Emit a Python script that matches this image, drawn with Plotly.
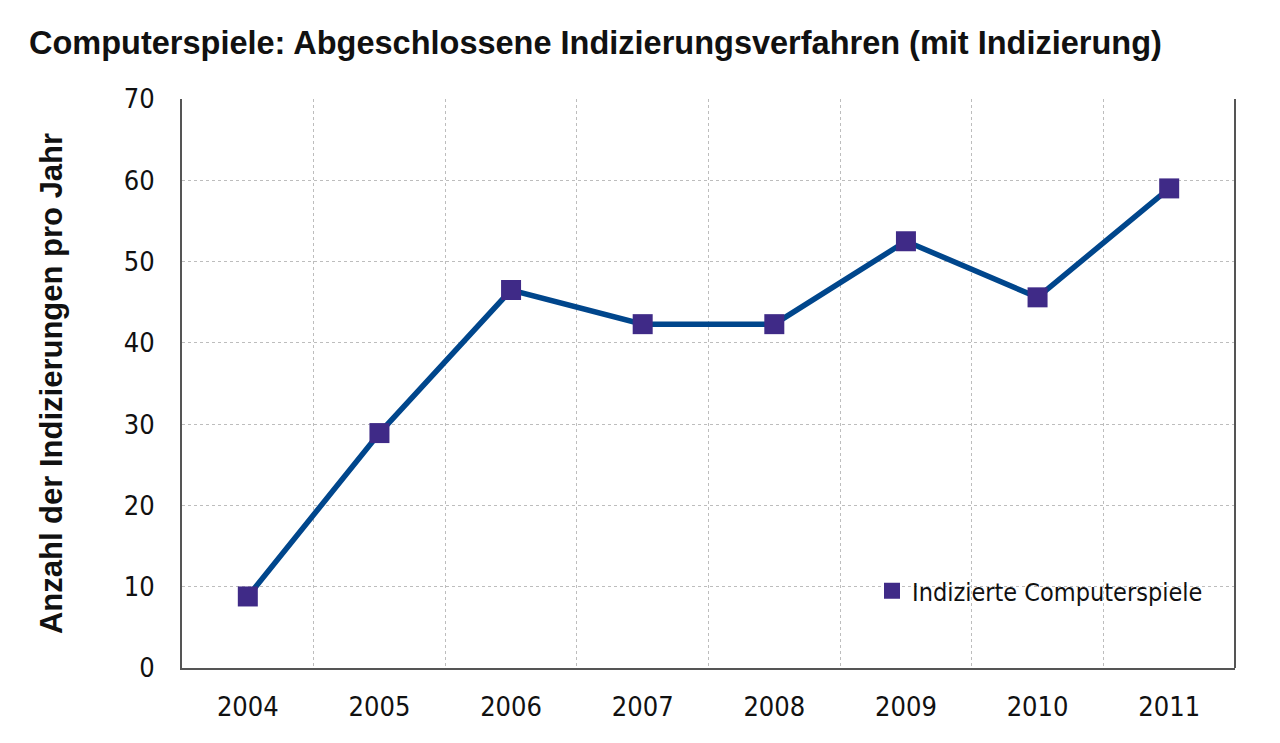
import plotly.graph_objects as go

years = ["2004", "2005", "2006", "2007", "2008", "2009", "2010", "2011"]
values = [8.8, 28.9, 46.5, 42.3, 42.3, 52.5, 45.6, 59.0]
y_ticks = [0, 10, 20, 30, 40, 50, 60, 70]
series_name = "Indizierte Computerspiele"

NARROW = "Liberation Sans Narrow, DejaVu Sans Condensed, Arial Narrow, sans-serif"
BOLD = "Liberation Sans, Arial, sans-serif"

x_idx = list(range(len(years)))

fig = go.Figure()
fig.add_trace(go.Scatter(
    x=x_idx, y=values, mode="lines+markers",
    line=dict(color="#00468c", width=5.5),
    marker=dict(symbol="square", size=20, color="#3f2a87"),
    showlegend=False, name=series_name,
))
fig.add_trace(go.Scatter(
    x=[None], y=[None], mode="markers",
    marker=dict(symbol="square", size=20, color="#3f2a87"),
    name=series_name, showlegend=True,
))

fig.update_layout(
    width=1280, height=743,
    margin=dict(l=182, r=45, t=99, b=75),
    paper_bgcolor="white", plot_bgcolor="white",
    title=dict(
        text="<b>Computerspiele: Abgeschlossene Indizierungsverfahren (mit Indizierung)</b>",
        font=dict(family=BOLD, size=32.5, color="#111"),
        x=29/1280, xanchor="left", xref="container",
        y=(743-43)/743, yanchor="middle", yref="container",
    ),
    xaxis=dict(
        range=[-0.5, len(years) - 0.5],
        tickmode="array", tickvals=x_idx, ticktext=years,
        showgrid=False, zeroline=False,
        showline=True, linecolor="#555", linewidth=2,
        ticks="", ticklabelstandoff=14,
        tickfont=dict(family=NARROW, size=27, color="#111"),
        minor=dict(tickmode="array", tickvals=[i + 0.5 for i in x_idx[:-1]],
                   showgrid=True, gridcolor="#bdbdbd", griddash="dot", gridwidth=1, ticks=""),
    ),
    yaxis=dict(
        range=[0, 70], tickmode="array", tickvals=y_ticks,
        showgrid=True, gridcolor="#bdbdbd", griddash="dot", gridwidth=1,
        zeroline=False,
        showline=True, linecolor="#555", linewidth=2,
        ticks="", ticklabelstandoff=20,
        tickfont=dict(family=NARROW, size=27, color="#111"),
        title=dict(text="<b>Anzahl der Indizierungen pro Jahr</b>",
                   font=dict(family=BOLD, size=31, color="#111"), standoff=52),
    ),
    legend=dict(
        x=(872-182)/1053, xanchor="left",
        y=(668-591)/569, yanchor="middle",
        bgcolor="rgba(0,0,0,0)",
        font=dict(family=NARROW, size=25, color="#111"),
        itemwidth=30,
    ),
    shapes=[dict(type="line", xref="paper", yref="paper", x0=1, x1=1, y0=0, y1=1,
                 line=dict(color="#555", width=2))],
)

fig.write_html("out.html")
